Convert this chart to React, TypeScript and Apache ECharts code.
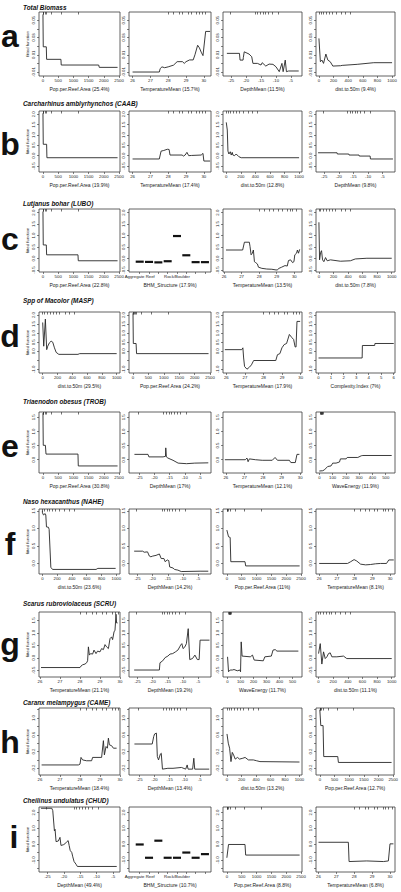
import React, { useEffect, useRef } from "react";
import * as echarts from "echarts";

type Pt = [number, number];

const FONT = '"Liberation Sans", Arial, Helvetica, sans-serif';
const INK = "#222";

// ---------- texts ----------
const rowLetters = ["a", "b", "c", "d", "e", "f", "g", "h", "i"];
const rowTitles = [
  "Total Biomass",
  "Carcharhinus amblyrhynchos (CAAB)",
  "Lutjanus bohar (LUBO)",
  "Spp of Macolor (MASP)",
  "Triaenodon obesus (TROB)",
  "Naso hexacanthus (NAHE)",
  "Scarus rubroviolaceus (SCRU)",
  "Caranx melampygus (CAME)",
  "Cheilinus undulatus (CHUD)",
];
const yName = "fitted function";

// ---------- tick values ----------
const popTicks = [0, 500, 1000, 1500, 2000, 2500];
const tempTicks = [26, 27, 28, 29, 30];
const depthTicks = [-25, -20, -15, -10, -5];
const distTicks = [0, 200, 400, 600, 800, 1000];
const waveTicks = [0, 100, 200, 300, 400, 500];
const cxTicks = [0, 1, 2, 3, 4, 5, 6];
const bhmTicks = [1, 2, 3, 4, 5, 6, 7, 8];
const bhmLabelAt = [1, 5];
const bhmNames = ["Aggregate Reef", "", "", "", "Rock/Boulder", "", "", ""];

// rug (decile) marks at the top of panels
const rugPop = [0, 10, 25, 60, 120, 280, 600, 1150];
const rugTemp = [28.0, 28.3, 28.6, 28.8, 29.1, 29.3, 29.6, 29.75, 29.9, 30.1];
const rugDepth = [-25.3, -17, -16.2, -15.3, -14.4, -13.6, -12.6, -11.4, -9.4];
const rugDist = [0, 25, 60, 100, 140, 180, 230, 300, 360, 430];
const rugWave = [8, 10, 12, 14, 16, 18, 20, 22, 24, 26];
const rugNone: number[] = [];

// y axes per row
const yRanges: Pt[] = [
  [-0.0146, 0.0595], [-0.79, 2.16], [-0.59, 2.16], [-1.2, 2.17], [-0.47, 1.69],
  [-0.3, 1.55], [-0.77, 1.84], [-0.36, 1.24], [-1.76, 2.35],
];
const yTicks = [
  [-0.01, 0, 0.01, 0.02, 0.03, 0.04, 0.05],
  [-0.5, 0, 0.5, 1, 1.5, 2],
  [-0.5, 0, 0.5, 1, 1.5, 2],
  [-1, -0.5, 0, 0.5, 1, 1.5, 2],
  [0, 0.5, 1, 1.5],
  [0, 0.5, 1, 1.5],
  [-0.5, 0, 0.5, 1, 1.5],
  [-0.2, 0, 0.2, 0.4, 0.6, 0.8, 1.0, 1.2],
  [-1.5, -1, -0.5, 0, 0.5, 1, 1.5, 2],
];
const yLabels = [
  [-0.01, 0.01, 0.03, 0.05],
  [-0.5, 0, 0.5, 1, 1.5, 2],
  [-0.5, 0, 0.5, 1, 1.5, 2],
  [-1, 0, 0.5, 1, 1.5, 2],
  [0, 0.5, 1, 1.5],
  [0, 0.5, 1, 1.5],
  [-0.5, 0, 0.5, 1, 1.5],
  [-0.2, 0.2, 0.6, 1.0],
  [-1, 0, 1, 2],
];
const yDigits = [2, 1, 1, 1, 1, 1, 1, 1, 1];

// ---------- series values ----------
// a: Total Biomass
const aPop: Pt[] = [[0, 0.0567], [10, 0.0192], [110, 0.0192], [120, 0.0047], [590, 0.0047], [600, -0.0019], [1830, -0.0019], [1850, -0.0046], [2450, -0.0046]];
const aTemp: Pt[] = [[26.0, -0.01], [27.5, -0.01], [27.55, -0.006], [27.65, -0.004], [27.8, -0.005], [28.0, -0.004], [28.3, -0.002], [28.5, 0.002], [28.8, 0.002], [28.9, 0.0], [29.0, 0.002], [29.2, 0.004], [29.4, 0.004], [29.5, 0.01], [29.65, 0.021], [29.75, 0.018], [29.85, 0.013], [29.95, 0.009], [30.1, 0.037], [30.35, 0.037]];
const aDepth: Pt[] = [[-26.4, 0.0116], [-22.2, 0.0116], [-22.0, 0.0038], [-21.0, 0.0038], [-20.9, 0.007], [-20.6, 0.0134], [-19.0, 0.0108], [-18.1, 0.0077], [-17.7, 0.0], [-16.2, 0.0], [-15.0, -0.0019], [-14.6, 0.0008], [-13.4, -0.0031], [-12.3, -0.0008], [-11.0, -0.0011], [-10.0, -0.0039], [-8.9, -0.0096], [-8.0, 0.0], [-7.6, -0.0096], [-6.9, 0.0038], [-6.5, -0.0096], [-5.8, -0.0088], [-2.4, -0.0088]];
const aDist: Pt[] = [[0, 0.0289], [20, 0.0019], [41, 0.0038], [63, 0.0], [95, 0.0108], [122, 0.0038], [155, 0.0019], [190, -0.0031], [295, -0.0027], [318, -0.0023], [523, -0.0011], [750, 0.0008], [1000, 0.0008]];

// b: CAAB
const bPop: Pt[] = [[0, 2.05], [10, 0.55], [120, 0.55], [130, -0.1], [2450, -0.1]];
const bTemp: Pt[] = [[26.0, -0.16], [27.5, -0.16], [27.6, 0.22], [27.75, 0.25], [27.95, 0.31], [28.05, 0.3], [28.1, 0.03], [28.78, 0.03], [28.85, -0.02], [28.95, 0.03], [29.05, 0.16], [29.15, 0.0], [29.3, 0.01], [29.85, 0.03], [29.95, 0.11], [30.0, -0.26], [30.35, -0.26]];
const bDist: Pt[] = [[0, 1.61], [14, 1.24], [23, 0.22], [36, 0.08], [55, 0.19], [68, 0.03], [82, 0.16], [91, 0.03], [114, 0.0], [136, 0.08], [173, -0.05], [205, -0.1], [1000, -0.1]];
const bDepth: Pt[] = [[-27.1, 0.14], [-20.6, 0.14], [-20.5, 0.08], [-16.6, 0.08], [-16.5, 0.03], [-13.1, 0.03], [-13.0, -0.02], [-9.3, -0.02], [-9.2, -0.16], [-1.5, -0.16]];

// c: LUBO
const cPop: Pt[] = [[0, 2.05], [10, 0.59], [110, 0.59], [120, 0.16], [1150, 0.16], [1160, -0.1], [2450, -0.1]];
const cBhm = [-0.14, -0.15, -0.17, -0.12, 0.98, 0.14, -0.16, -0.16];
const cTemp: Pt[] = [[26.11, 0.37], [27.06, 0.37], [27.16, 0.71], [27.44, 0.71], [27.48, 0.52], [27.54, 0.16], [27.61, 0.23], [27.67, 0.37], [27.73, -0.14], [27.8, -0.18], [27.9, -0.24], [27.96, -0.38], [28.15, -0.43], [28.43, -0.46], [28.72, -0.47], [28.96, -0.5], [29.03, -0.5], [29.13, -0.43], [29.28, -0.38], [29.47, -0.31], [29.6, -0.33], [29.67, -0.09], [29.79, -0.06], [29.9, -0.18], [29.98, -0.14], [30.03, 0.16], [30.13, 0.23], [30.18, 0.37], [30.24, 0.23], [30.31, 0.4]];
const cDist: Pt[] = [[0, 1.58], [9, -0.06], [23, 0.26], [36, 0.34], [50, -0.06], [68, -0.14], [91, 0.04], [114, -0.1], [159, -0.06], [295, -0.12], [432, -0.1], [500, -0.02], [659, 0.01], [1000, 0.01]];

// d: MASP
const dDist: Pt[] = [[0, 1.59], [14, 0.28], [36, 1.78], [54, 0.09], [68, 0.28], [91, 0.47], [114, 0.56], [136, 0.5], [159, 0.19], [182, -0.06], [218, -0.17], [477, -0.17], [500, -0.13], [1000, -0.13]];
const dPop: Pt[] = [[0, 2.1], [10, 0.43], [100, 0.43], [115, -0.13], [2450, -0.13]];
const dTemp: Pt[] = [[25.92, 0.09], [26.83, 0.09], [26.89, 0.19], [26.93, -0.37], [26.98, -0.84], [27.11, -0.99], [27.24, -0.88], [27.35, -0.75], [27.47, -0.51], [28.66, -0.51], [28.75, -0.19], [28.88, -0.13], [28.99, 0.19], [29.11, 0.37], [29.24, 0.43], [29.39, 0.93], [29.53, 0.75], [29.62, 0.65], [29.7, 0.24], [29.75, 0.24], [29.8, 1.65], [29.97, 1.65]];
const dCx: Pt[] = [[0, -0.37], [3.48, -0.37], [3.5, 0.32], [4.48, 0.32], [4.5, 0.43], [6, 0.43]];

// e: TROB
const ePop: Pt[] = [[0, 1.65], [10, 0.51], [80, 0.51], [100, 0.2], [1150, 0.2], [1160, -0.22], [2450, -0.22]];
const eDepth: Pt[] = [[-26.7, 0.19], [-22.2, 0.19], [-21.9, 0.1], [-17.2, 0.1], [-16.4, 0.12], [-16.3, 0.42], [-16.1, 0.1], [-15.6, 0.06], [-13.9, -0.02], [-12.2, -0.12], [-9.4, -0.14], [-6.7, -0.12], [-2.2, -0.11]];
const eTemp: Pt[] = [[25.95, 0.0], [27.05, 0.0], [27.14, 0.06], [27.2, -0.07], [27.27, 0.03], [27.6, 0.0], [27.96, -0.02], [28.5, -0.02], [28.65, 0.08], [28.78, -0.02], [29.42, -0.02], [29.5, -0.1], [29.74, -0.1], [29.83, 0.19], [29.96, 0.19]];
const eWave: Pt[] = [[0, -0.4], [25, -0.39], [38, -0.36], [63, -0.24], [88, -0.22], [101, -0.12], [126, -0.12], [152, -0.08], [159, 0.03], [202, 0.03], [210, 0.08], [290, 0.08], [316, 0.14], [328, 0.15], [545, 0.15]];

// f: NAHE
const fDist: Pt[] = [[0, 1.5], [2, 1.44], [16, 1.38], [38, 1.42], [47, 1.38], [56, 1.04], [83, 1.03], [92, 0.97], [101, 0.97], [115, -0.11], [138, -0.17], [726, -0.17], [751, -0.14], [991, -0.14]];
const fDepth: Pt[] = [[-26.1, 0.35], [-23.3, 0.35], [-22.8, 0.32], [-21.7, 0.33], [-21.1, 0.21], [-20.6, 0.19], [-20.0, 0.21], [-18.9, 0.23], [-17.8, 0.27], [-17.2, 0.14], [-16.3, 0.14], [-15.9, 0.05], [-15.2, 0.1], [-14.7, 0.08], [-14.4, -0.1], [-13.3, -0.13], [-12.8, -0.17], [-11.7, -0.19], [-10.6, -0.23], [-4.4, -0.22], [-1.7, -0.22]];
const fPop: Pt[] = [[0, 0.95], [56, 0.76], [111, 0.74], [133, 0.05], [611, 0.05], [633, -0.07], [2450, -0.07]];
const fTemp: Pt[] = [[26.0, 0.0], [27.6, 0.0], [27.78, 0.05], [27.97, 0.11], [28.12, 0.07], [28.34, -0.02], [28.62, -0.04], [28.9, -0.03], [29.18, -0.01], [29.46, 0.0], [29.8, 0.0], [29.93, 0.1], [30.21, 0.1]];

// g: SCRU
const gTemp: Pt[] = [[26.05, -0.39], [28.0, -0.39], [28.05, -0.33], [28.13, -0.28], [28.25, -0.25], [28.33, -0.2], [28.38, -0.12], [28.42, 0.44], [28.47, 0.11], [28.53, 0.17], [28.63, 0.15], [28.7, 0.31], [28.8, 0.17], [28.88, 0.27], [29.0, 0.24], [29.08, 0.37], [29.17, 0.33], [29.25, 0.53], [29.33, 0.44], [29.42, 0.37], [29.5, 0.77], [29.58, 0.84], [29.63, 0.73], [29.7, 1.04], [29.75, 1.11], [29.8, 1.75], [29.83, 1.4], [29.88, 1.4]];
const gDepth: Pt[] = [[-26.1, -0.49], [-17.8, -0.49], [-17.6, -0.2], [-16.7, -0.12], [-15.9, 0.01], [-15.0, 0.07], [-14.3, 0.15], [-13.4, 0.17], [-12.5, 0.24], [-11.7, 0.31], [-11.1, 0.44], [-10.8, 0.51], [-10.4, 0.57], [-10.0, 0.37], [-9.4, 0.44], [-8.9, 0.57], [-8.3, 1.17], [-7.8, -0.07], [-6.9, -0.03], [-6.1, 0.11], [-5.3, -0.07], [-4.7, -0.07], [-4.4, 0.71], [-1.3, 0.71]];
const gWave: Pt[] = [[0, 0.04], [7.5, -0.56], [20, -0.49], [37, -0.49], [50, -0.47], [75, -0.52], [95, -0.49], [100, -0.56], [105, 0.64], [112, 0.07], [175, 0.04], [192, 0.11], [205, -0.09], [275, -0.12], [287, 0.04], [337, 0.07], [350, 0.31], [367, 0.33], [380, 0.27], [545, 0.27]];
const gDist: Pt[] = [[0, 0.17], [23, 0.57], [45, -0.25], [68, 0.24], [91, -0.03], [114, 0.04], [136, 0.17], [159, 0.2], [182, 0.04], [250, 0.04], [341, 0.07], [386, -0.03], [1000, -0.03]];

// h: CAME
const hTemp: Pt[] = [[26.08, -0.12], [27.92, -0.12], [28.0, -0.1], [28.05, 0.06], [28.13, 0.0], [28.33, -0.02], [28.58, -0.02], [28.63, 0.06], [29.0, 0.06], [29.08, 0.06], [29.17, 0.46], [29.22, 0.12], [29.3, 0.32], [29.37, 0.28], [29.42, 0.52], [29.47, 0.36], [29.58, 0.34], [29.67, 0.28], [29.83, 0.28]];
const hDepth: Pt[] = [[-26.7, 0.38], [-20.8, 0.38], [-20.3, 0.56], [-20.0, 0.62], [-19.4, 0.64], [-19.1, 0.08], [-18.7, 0.0], [-18.1, 0.14], [-17.8, 0.16], [-17.4, -0.22], [-15.6, -0.2], [-13.9, -0.2], [-11.1, -0.18], [-9.7, -0.22], [-9.2, -0.12], [-8.9, -0.22], [-7.4, -0.22], [-7.0, 0.04], [-6.7, -0.22], [-1.9, -0.22]];
const hDist: Pt[] = [[0, 0.62], [18, 0.4], [36, 0.28], [55, -0.04], [73, 0.18], [91, 0.12], [114, 0.02], [145, 0.06], [173, 0.02], [218, 0.04], [250, 0.06], [295, 0.0], [364, 0.0], [409, -0.02], [455, -0.04], [1000, -0.05]];
const hPop: Pt[] = [[0, 1.2], [33, 0.82], [111, 0.82], [133, 0.08], [611, 0.08], [633, -0.06], [2444, -0.06]];

// i: CHUD
const iDepth: Pt[] = [[-27.0, 2.27], [-23.7, 2.27], [-23.4, 2.12], [-22.9, 0.84], [-22.7, 0.94], [-22.4, 0.16], [-21.7, 0.2], [-21.2, 0.43], [-20.9, -0.08], [-20.2, -0.04], [-19.7, 0.02], [-19.1, 0.16], [-18.7, 0.22], [-18.4, -0.08], [-18.1, -0.39], [-17.6, -0.53], [-17.3, -0.8], [-16.9, -1.1], [-16.3, -1.27], [-15.9, -1.41], [-3.9, -1.41]];
const iBhm = [-0.02, -0.86, 0.22, -0.86, -0.86, -0.53, -0.86, -0.63];
const iPop: Pt[] = [[0, -0.86], [56, -0.02], [611, -0.02], [633, -0.69], [2450, -0.69]];
const iTemp: Pt[] = [[26.0, 0.12], [27.67, 0.12], [27.71, -1.1], [28.7, -1.06], [29.63, -1.1], [29.91, -1.06], [30.0, 0.02], [30.19, 0.02]];

// ---------- panel definitions ----------
type Panel = {
  name: string;
  range: Pt;
  ticks: number[];
  labels?: number[];
  names?: string[];
  rug: number[];
  data?: Pt[];
  levels?: number[];
};
const P = (name: string, range: Pt, ticks: number[], rug: number[], data: Pt[]): Panel => ({ name, range, ticks, rug, data });
const B = (name: string, levels: number[]): Panel => ({
  name, range: [-0.15, 8.65], ticks: bhmTicks, labels: bhmLabelAt, names: bhmNames, rug: rugNone, levels,
});

const panels: Panel[][] = [
  [
    P("Pop.per.Reef.Area (25.4%)", [-130, 2530], popTicks, rugPop, aPop),
    P("TemperatureMean (15.7%)", [25.8, 30.4], tempTicks, rugTemp, aTemp),
    P("DepthMean (11.5%)", [-27.7, -1.3], depthTicks, rugDepth, aDepth),
    P("dist.to.50m (9.4%)", [-40, 1040], distTicks, rugDist, aDist),
  ],
  [
    P("Pop.per.Reef.Area (19.9%)", [-130, 2530], popTicks, rugPop, bPop),
    P("TemperatureMean (17.4%)", [25.8, 30.4], tempTicks, rugTemp, bTemp),
    P("dist.to.50m (12.8%)", [-45, 1040], distTicks, rugDist, bDist),
    P("DepthMean (9.8%)", [-27.8, -0.8], depthTicks, rugDepth, bDepth),
  ],
  [
    P("Pop.per.Reef.Area (22.8%)", [-130, 2530], popTicks, rugPop, cPop),
    B("BHM_Structure (17.9%)", cBhm),
    P("TemperatureMean (13.5%)", [25.94, 30.44], tempTicks, rugTemp, cTemp),
    P("dist.to.50m (7.8%)", [-40, 1045], distTicks, rugDist, cDist),
  ],
  [
    P("dist.to.50m (29.5%)", [-50, 1045], distTicks, rugDist, dDist),
    P("Pop.per.Reef.Area (24.2%)", [-130, 2530], popTicks, rugPop, dPop),
    P("TemperatureMean (17.9%)", [25.82, 30.07], tempTicks, rugTemp, dTemp),
    P("Complexity.Index (7%)", [-0.2, 6.1], cxTicks, rugNone, dCx),
  ],
  [
    P("Pop.per.Reef.Area (30.8%)", [-130, 2530], popTicks, rugPop, ePop),
    P("DepthMean (17%)", [-28.5, -1.3], depthTicks, rugDepth, eDepth),
    P("TemperatureMean (12.1%)", [25.85, 30.1], tempTicks, rugNone, eTemp),
    P("WaveEnergy (11.9%)", [-25, 570], waveTicks, rugWave, eWave),
  ],
  [
    P("dist.to.50m (23.6%)", [-45, 1050], distTicks, rugDist, fDist),
    P("DepthMean (14.2%)", [-27.8, -0.8], depthTicks, rugDepth, fDepth),
    P("Pop.per.Reef.Area (11%)", [-130, 2530], popTicks, rugPop, fPop),
    P("TemperatureMean (8.1%)", [25.82, 30.28], tempTicks, rugTemp, fTemp),
  ],
  [
    P("TemperatureMean (21.1%)", [25.95, 30.0], tempTicks, rugTemp, gTemp),
    P("DepthMean (19.2%)", [-27.8, -0.8], depthTicks, rugDepth, gDepth),
    P("WaveEnergy (11.7%)", [-35, 573], waveTicks, rugWave, gWave),
    P("dist.to.50m (11.1%)", [-35, 1045], distTicks, rugDist, gDist),
  ],
  [
    P("TemperatureMean (18.4%)", [25.95, 30.0], tempTicks, rugTemp, hTemp),
    P("DepthMean (13.4%)", [-28.5, -1.3], depthTicks, rugDepth, hDepth),
    P("dist.to.50m (13.2%)", [-55, 1035], distTicks, rugDist, hDist),
    P("Pop.per.Reef.Area (12.7%)", [-130, 2530], popTicks, rugPop, hPop),
  ],
  [
    P("DepthMean (49.4%)", [-27.6, -2.9], depthTicks, rugDepth, iDepth),
    B("BHM_Structure (10.7%)", iBhm),
    P("Pop.per.Reef.Area (8.8%)", [-130, 2530], popTicks, rugPop, iPop),
    P("TemperatureMean (6.8%)", [25.86, 30.28], tempTicks, rugTemp, iTemp),
  ],
];

// ---------- layout ----------
const rowTop = [12, 111, 209, 312, 412, 509, 612, 708, 807];
const rowBot = [76, 172, 272, 373, 473, 574, 677, 775, 872];
const colL = [39, 129, 223, 316];
const colR = [120, 211, 302, 395];
const titleY = [7, 103, 203, 300, 401, 501, 603, 702, 800];
const letterY = [36, 144, 239, 336, 446, 544, 644, 742, 837];
const letterX = [10, 10, 10, 10, 10, 10, 10, 10, 14];

function buildOption() {
  const grid: any[] = [];
  const xAxis: any[] = [];
  const yAxis: any[] = [];
  const series: any[] = [];
  const tickStyle = { color: "#333", width: 0.6 };
  panels.forEach((row, r) => {
    const [ymin, ymax] = yRanges[r];
    row.forEach((p, c) => {
      const gi = grid.length;
      const [xmin, xmax] = p.range;
      const inX = (v: number) => v >= xmin && v <= xmax;
      grid.push({
        left: colL[c], top: rowTop[r], width: colR[c] - colL[c], height: rowBot[r] - rowTop[r],
        show: true, borderColor: "#3a3a3a", borderWidth: 0.8, backgroundColor: "transparent",
      });
      const labelVals = (p.labels || p.ticks).filter(inX);
      xAxis.push({
        gridIndex: gi, type: "value", position: "bottom", min: xmin, max: xmax,
        axisLine: { show: false, onZero: false },
        axisTick: { show: true, length: 2, lineStyle: tickStyle, customValues: p.ticks.filter(inX) },
        axisLabel: {
          customValues: labelVals, fontSize: 4.3, color: INK, margin: 2.6, fontFamily: FONT,
          formatter: (v: number) => (p.names ? p.names[Math.round(v) - 1] : String(v)),
        },
        splitLine: { show: false },
        name: p.name, nameLocation: "middle", nameGap: 10.5,
        nameTextStyle: { fontSize: 5, color: INK, fontFamily: FONT },
      });
      xAxis.push({
        gridIndex: gi, type: "value", position: "top", min: xmin, max: xmax,
        axisLine: { show: false, onZero: false },
        axisTick: { show: p.rug.length > 0, inside: true, length: 2.5, lineStyle: { color: "#333", width: 0.7 }, customValues: p.rug.filter(inX) },
        axisLabel: { show: false },
        splitLine: { show: false },
      });
      yAxis.push({
        gridIndex: gi, type: "value", min: ymin, max: ymax,
        axisLine: { show: false, onZero: false },
        axisTick: { show: true, length: 2, lineStyle: tickStyle, customValues: yTicks[r] },
        axisLabel: {
          customValues: yLabels[r], rotate: 90, fontSize: 4.3, color: INK, margin: 3.5, fontFamily: FONT,
          formatter: (v: number) => v.toFixed(yDigits[r]),
        },
        splitLine: { show: false },
        name: c === 0 ? yName : "", nameLocation: "middle", nameGap: 10, nameRotate: 90,
        nameTextStyle: { fontSize: 4.3, color: INK, fontFamily: FONT },
      });
      if (p.data) {
        series.push({
          type: "line", xAxisIndex: gi * 2, yAxisIndex: gi, data: p.data,
          showSymbol: false, symbol: "none", silent: true,
          lineStyle: { color: "#262626", width: 0.9 },
        });
      }
      if (p.levels) {
        p.levels.forEach((v, k) => {
          series.push({
            type: "line", xAxisIndex: gi * 2, yAxisIndex: gi,
            data: [[k + 1 - 0.43, v], [k + 1 + 0.43, v]],
            showSymbol: false, symbol: "none", silent: true,
            lineStyle: { color: "#111", width: 2.2, cap: "butt" },
          });
        });
      }
    });
  });

  const graphic: any[] = [];
  rowLetters.forEach((l, r) => {
    graphic.push({
      type: "text", x: letterX[r], y: letterY[r], silent: true,
      style: { text: l, fontSize: 32, fontWeight: "bold", fontFamily: FONT, fill: "#111", align: "center", verticalAlign: "middle" },
    });
    graphic.push({
      type: "text", x: 23, y: titleY[r], silent: true,
      style: { text: rowTitles[r], fontSize: 6.4, fontWeight: "bold", fontStyle: "italic", fontFamily: FONT, fill: "#111", align: "left", verticalAlign: "middle" },
    });
  });

  return {
    animation: false,
    backgroundColor: "#ffffff",
    grid, xAxis, yAxis, series, graphic,
  };
}

export default function App() {
  const ref = useRef<HTMLDivElement>(null);
  useEffect(() => {
    document.body.style.margin = "0";
    const chart = echarts.init(ref.current!, null, { renderer: "svg", width: 401, height: 892 });
    chart.setOption(buildOption() as any);
    return () => chart.dispose();
  }, []);
  return (
    <div
      ref={ref}
      style={{ position: "absolute", left: 0, top: 0, width: 401, height: 892, background: "#fff" }}
    />
  );
}
